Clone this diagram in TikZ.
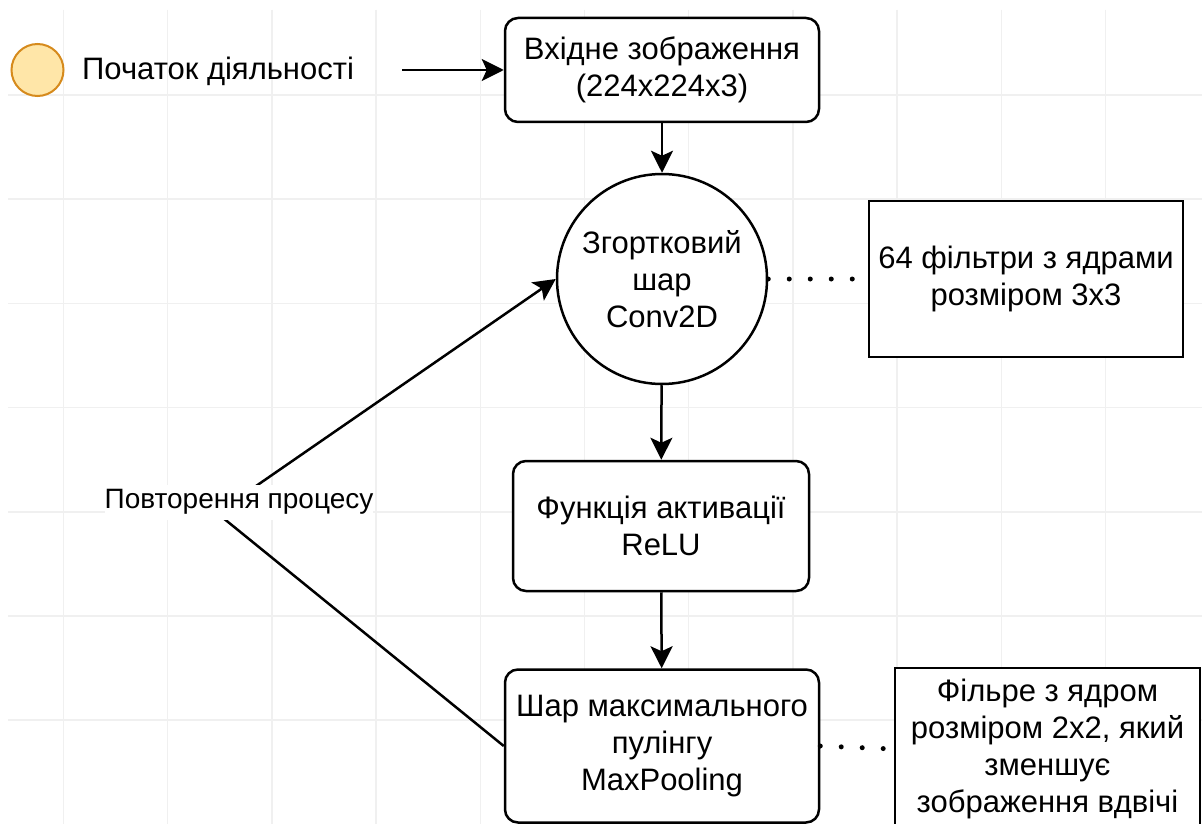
\documentclass[tikz,border=0pt]{standalone}
\usepackage{fontspec}
\setmainfont{Liberation Sans}
\usetikzlibrary{arrows.meta}
\definecolor{gridc}{HTML}{F0F0F0}
\definecolor{startfill}{HTML}{FFE6A8}
\definecolor{startdraw}{HTML}{D68A1C}
\tikzset{
  txt/.style={font=\fontsize{31}{37}\selectfont, align=center, text=black},
  rbox/.style={txt, draw=black, line width=2.5pt, rounded corners=13pt, fill=white, inner sep=0pt},
  sbox/.style={txt, draw=black, line width=2.5pt, fill=white, inner sep=0pt},
  arr/.style={draw=black, line width=2.5pt, -{Stealth[length=22pt, width=22pt, inset=5pt]}},
  dotline/.style={draw=black, line width=5pt, line cap=round, dash pattern=on 0pt off 21pt},
  gridline/.style={draw=gridc, line width=1.5pt},
  startc/.style={circle, draw=startdraw, fill=startfill, line width=2pt, minimum size=52pt, inner sep=0pt},
  replbl/.style={font=\fontsize{28}{34}\selectfont, align=center, text=black, fill=white, inner sep=0pt, minimum height=35pt}
}
\begin{document}
\begin{tikzpicture}[x=1pt,y=-1pt]
\useasboundingbox (0,0) rectangle (1202,824);
\clip (0,0) rectangle (1202,824);
\fill[white] (0,0) rectangle (1202,824);
% background grid
\foreach \i in {0,...,10} \draw[gridline] ({63.5+104.2*\i},10) -- ({63.5+104.2*\i},824);
\foreach \j in {0,...,7} \draw[gridline] (8,{95+104.2*\j}) -- (1202,{95+104.2*\j});

% nodes
\node[startc] (start) at (37.5,70) {};
\node[txt, anchor=west, inner sep=0pt] (starttext) at (82,71) {Початок діяльності};
\coordinate (arrstart) at (402,70);
\node[rbox, minimum width=314pt, minimum height=104pt] (input) at (662,70) {Вхідне зображення\\(224x224x3)};
\node[txt, circle, draw=black, line width=2.5pt, fill=white, minimum size=210pt, inner sep=0pt] (conv) at (662,279) {Згортковий\\шар\\Conv2D};
\node[sbox, minimum width=314pt, minimum height=156pt] (filt) at (1026,279) {64 фільтри з ядрами\\розміром 3x3};
\node[rbox, minimum width=296pt, minimum height=130pt] (relu) at (661,526) {Функція активації\\ReLU};
\node[rbox, minimum width=314pt, minimum height=153pt] (pool) at (662,746) {Шар максимального\\пулінгу\\MaxPooling};
\node[sbox, minimum width=305pt, minimum height=162pt] (pfilt) at (1047.5,749) {Фільре з ядром\\розміром 2x2, який\\зменшує\\зображення вдвічі};
\coordinate (bend) at (217,513);

% connectors
\draw[arr] (arrstart) -- (input.west);
\draw[arr] (input) -- (conv);
\draw[arr] (conv) -- (relu);
\draw[arr] (relu) -- (pool);
\draw[dotline] (conv.east) -- (filt.west);
\draw[dotline] (pool.east) -- (pfilt.west);
\draw[arr] (pool.west) -- (bend) -- (conv.west);
\node[replbl] (rep) at (239,502) {Повторення процесу};
\end{tikzpicture}
\end{document}
